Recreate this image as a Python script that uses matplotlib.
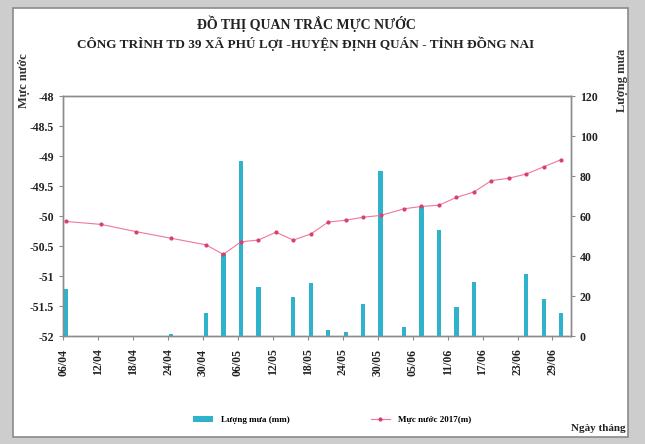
import numpy as np
import pandas as pd
import matplotlib
matplotlib.use("Agg")
import matplotlib.pyplot as plt
from matplotlib.patches import Rectangle

plt.rcParams['font.family'] = ['Liberation Serif', 'DejaVu Serif']

# ngay do muc nuoc / luong mua
ngay_do = ['2017-04-06', '2017-04-12', '2017-04-18', '2017-04-24', '2017-04-30',
           '2017-05-03', '2017-05-06', '2017-05-09', '2017-05-12', '2017-05-15',
           '2017-05-18', '2017-05-21', '2017-05-24', '2017-05-27', '2017-05-30',
           '2017-06-03', '2017-06-06', '2017-06-09', '2017-06-12', '2017-06-15',
           '2017-06-18', '2017-06-21', '2017-06-24', '2017-06-27', '2017-06-30']
muc_nuoc = [-50.09, -50.14, -50.26, -50.37, -50.48,
            -50.64, -50.43, -50.40, -50.27, -50.40,
            -50.30, -50.10, -50.07, -50.02, -49.99,
            -49.88, -49.84, -49.82, -49.69, -49.60,
            -49.41, -49.37, -49.30, -49.18, -49.06]
luong_mua = [23.3, 0, 0, 0.8, 11.7,
             41.3, 87.5, 24.7, 0, 19.7,
             26.3, 3.0, 1.8, 15.8, 82.5,
             4.7, 65.2, 53.0, 14.7, 26.8,
             0, 0, 31.0, 18.3, 11.7]

nhan_ngay = ['06/04', '12/04', '18/04', '24/04', '30/04', '06/05', '12/05', '18/05',
             '24/05', '30/05', '05/06', '11/06', '17/06', '23/06', '29/06']

x = pd.to_datetime(ngay_do) + pd.Timedelta(hours=12)
ticks = pd.date_range('2017-04-06', periods=len(nhan_ngay), freq='6D')

fig = plt.figure(figsize=(6.45, 4.44), dpi=100, facecolor='#cdcdcd')
fig.patches.append(Rectangle((13 / 645, 7 / 444), 615 / 645, 429 / 444,
                             transform=fig.transFigure, facecolor='white',
                             edgecolor='#8a8a8a', linewidth=1.2, zorder=-5))

ax = fig.add_axes([0.0981, 0.2432, 0.787, 0.5405])
ax2 = ax.twinx()

ax2.bar(x, luong_mua, width=0.75, color='#2fb3cc', label='Lượng mưa (mm)')
ax2.set_ylim(0, 120)
ax2.set_yticks(np.arange(0, 121, 20))

ax.set_zorder(ax2.get_zorder() + 1)
ax.patch.set_visible(False)
ax.plot(x, muc_nuoc, color='#f07898', lw=0.8, marker='o', ms=2,
        mfc='#d8406a', mec='#d8406a', label='Mực nước 2017(m)')
ax.set_ylim(-52, -48)
ax.set_yticks(np.arange(-52, -47.9, 0.5))
ax.set_yticklabels(['-52', '-51.5', '-51', '-50.5', '-50', '-49.5', '-49', '-48.5', '-48'])

ax.set_xlim(pd.Timestamp('2017-04-06'), pd.Timestamp('2017-07-02 04:00'))
ax.set_xticks(ticks)
ax.set_xticklabels(nhan_ngay, rotation=90)

for a in (ax, ax2):
    for s in a.spines.values():
        s.set_color('#8c8c8c')
        s.set_linewidth(1.0)
    a.tick_params(colors='#8c8c8c', labelcolor='#222222', labelsize=8.5, length=3, width=0.8)
    for lb in a.get_xticklabels() + a.get_yticklabels():
        lb.set_fontweight('bold')
ax.tick_params(axis='x', pad=6)

fig.text(306 / 645, 1 - 24 / 444, 'ĐỒ THỊ QUAN TRẮC MỰC NƯỚC', ha='center', va='center',
         fontsize=10, fontweight='bold', color='#222222')
fig.text(306 / 645, 1 - 44 / 444, 'CÔNG TRÌNH TD 39 XÃ PHÚ LỢI -HUYỆN ĐỊNH QUÁN - TỈNH ĐỒNG NAI',
         ha='center', va='center', fontsize=9.5, fontweight='bold', color='#222222')
fig.text(24 / 645, 1 - 81 / 444, 'Mực nước', rotation=90, ha='center', va='center',
         fontsize=9, fontweight='bold', color='#333333')
fig.text(622 / 645, 1 - 80 / 444, 'Lượng mưa', rotation=90, ha='center', va='center',
         fontsize=9, fontweight='bold', color='#333333')
fig.text(626 / 645, 1 - 428 / 444, 'Ngày tháng', ha='right', va='center',
         fontsize=8, fontweight='bold', color='#222222')

h1, l1 = ax2.get_legend_handles_labels()
h2, l2 = ax.get_legend_handles_labels()
leg = fig.legend(h1 + h2, l1 + l2, loc='center', bbox_to_anchor=(0.515, 1 - 420 / 444),
                 ncol=2, frameon=False, columnspacing=9, fontsize=6.5, handlelength=2.2,
                 handleheight=0.6)
for t in leg.get_texts():
    t.set_fontweight('bold')

fig.savefig('out.png', dpi=100, facecolor=fig.get_facecolor())
